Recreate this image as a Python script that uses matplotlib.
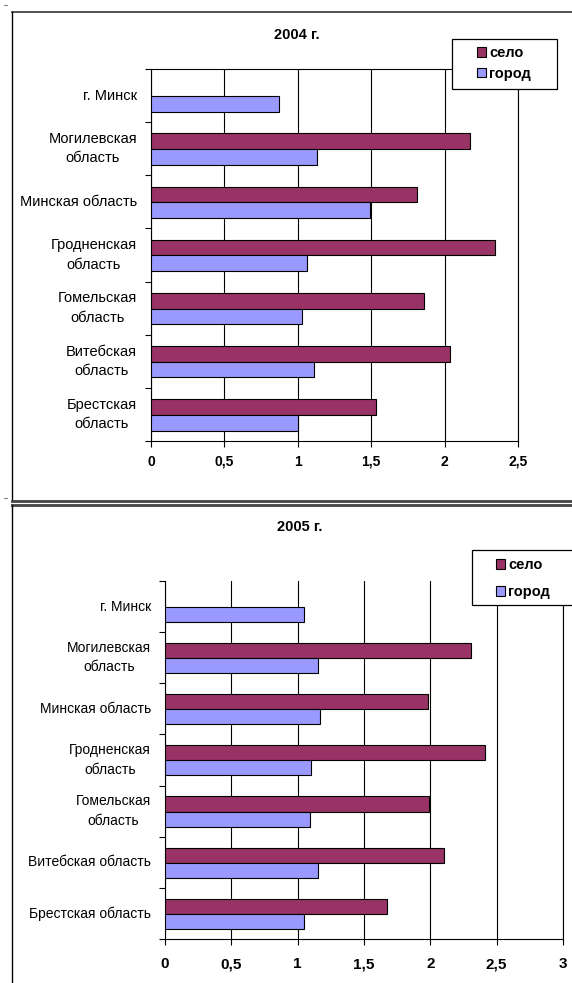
import numpy as np
import matplotlib.pyplot as plt
from matplotlib.lines import Line2D
from matplotlib.patches import Rectangle, Patch

plt.rcParams['font.family'] = ['Liberation Sans', 'DejaVu Sans']

# Данные
regions_2004 = ['г. Минск', 'Могилевская\nобласть', 'Минская область', 'Гродненская\nобласть',
                'Гомельская\nобласть', 'Витебская\nобласть', 'Брестская\nобласть']
regions_2005 = ['г. Минск', 'Могилевская\nобласть', 'Минская область', 'Гродненская\nобласть',
                'Гомельская\nобласть', 'Витебская область', 'Брестская область']

selo_2004 = [np.nan, 2.17, 1.81, 2.34, 1.86, 2.04, 1.53]
gorod_2004 = [0.87, 1.13, 1.49, 1.06, 1.03, 1.11, 1.00]

selo_2005 = [np.nan, 2.31, 1.98, 2.41, 1.99, 2.10, 1.67]
gorod_2005 = [1.05, 1.15, 1.17, 1.10, 1.09, 1.15, 1.05]

xticks_2004 = [0, 0.5, 1, 1.5, 2, 2.5]
xticks_2005 = [0, 0.5, 1, 1.5, 2, 2.5, 3]

c_selo = '#993366'
c_gorod = '#9999FF'

W, H = 572, 983
fig = plt.figure(figsize=(W / 100, H / 100), dpi=100)


def fx(x):
    return x / W


def fy(y):
    return 1 - y / H


def line(x0, y0, x1, y1, **kw):
    fig.add_artist(Line2D([fx(x0), fx(x1)], [fy(y0), fy(y1)], **kw))


def make_chart(rect, cats, selo, gorod, xticks, title, title_pos, leg_box, leg_pos,
               leg_space, lab_size, tick_size, tick_pad, top_spine):
    left, top, right, bottom = rect
    ax = fig.add_axes([fx(left), fy(bottom), fx(right) - fx(left), (bottom - top) / H])
    y = np.arange(len(cats))
    h = 0.295
    ax.barh(y - 0.14, selo, height=h, color=c_selo, edgecolor='black', linewidth=0.8, zorder=3)
    ax.barh(y + 0.155, gorod, height=h, color=c_gorod, edgecolor='black', linewidth=0.8, zorder=3)
    ax.set_ylim(len(cats) - 0.5, -0.5)
    ax.set_xlim(xticks[0], xticks[-1])

    ax.set_yticks(y)
    ax.set_yticklabels(cats, fontsize=lab_size, linespacing=1.5, multialignment='center',
                       va='center')
    ax.set_yticks(np.arange(len(cats) + 1) - 0.5, minor=True)
    ax.tick_params(axis='y', which='major', length=0, pad=10)
    ax.tick_params(axis='y', which='minor', length=4, width=0.8, direction='out')

    ax.set_xticks(xticks)
    ax.set_xticklabels([str(t).replace('.', ',').replace(',0', '') for t in xticks],
                       fontsize=tick_size, fontweight='bold')
    ax.tick_params(axis='x', length=4, width=0.8, direction='out', pad=tick_pad)
    ax.xaxis.grid(True, color='black', linewidth=0.8)
    ax.set_axisbelow(True)

    for s in ax.spines.values():
        s.set_linewidth(0.8)
    ax.spines['top'].set_visible(top_spine)

    fig.text(fx(title_pos[0]), fy(title_pos[1]), title, ha='center', va='center',
             fontsize=10.5, fontweight='bold')

    bx0, by0, bx1, by1 = leg_box
    fig.add_artist(Rectangle((fx(bx0), fy(by1)), (bx1 - bx0) / W, (by1 - by0) / H,
                             facecolor='white', edgecolor='black', linewidth=0.9, zorder=5))
    handles = [Patch(facecolor=c_selo, edgecolor='black', linewidth=0.8),
               Patch(facecolor=c_gorod, edgecolor='black', linewidth=0.8)]
    fig.legend(handles, ['село', 'город'], loc='upper left',
               bbox_to_anchor=(fx(leg_pos[0]), fy(leg_pos[1])), frameon=False,
               borderpad=0, borderaxespad=0, handlelength=0.65, handleheight=0.65,
               handletextpad=0.2, labelspacing=leg_space,
               prop={'weight': 'bold', 'size': 10.5}).set_zorder(6)
    return ax


make_chart((151, 69, 518, 441), regions_2004, selo_2004, gorod_2004, xticks_2004,
           '2004 г.', (297, 35), (452, 39, 557, 89), (477, 46), 0.45, 10.5, 10, 6, True)
make_chart((165, 581, 563, 939), regions_2005, selo_2005, gorod_2005, xticks_2005,
           '2005 г.', (300, 527), (472, 550, 590, 605), (496, 558), 0.9, 10, 11, 9, False)

# Рамки диаграмм
line(11.7, 12, 580, 12, color='#333333', linewidth=1.2)
line(11.7, 12, 11.7, 501, color='black', linewidth=1)
line(11.7, 501, 580, 501, color='#444444', linewidth=2)
line(11.7, 504.5, 580, 504.5, color='#444444', linewidth=2)
line(11.7, 504.5, 11.7, 990, color='black', linewidth=1)
line(4, 5, 7, 5, color='#888888', linewidth=0.8)
line(4, 498, 7, 498, color='#888888', linewidth=0.8)

fig.savefig('out.png', dpi=100)
